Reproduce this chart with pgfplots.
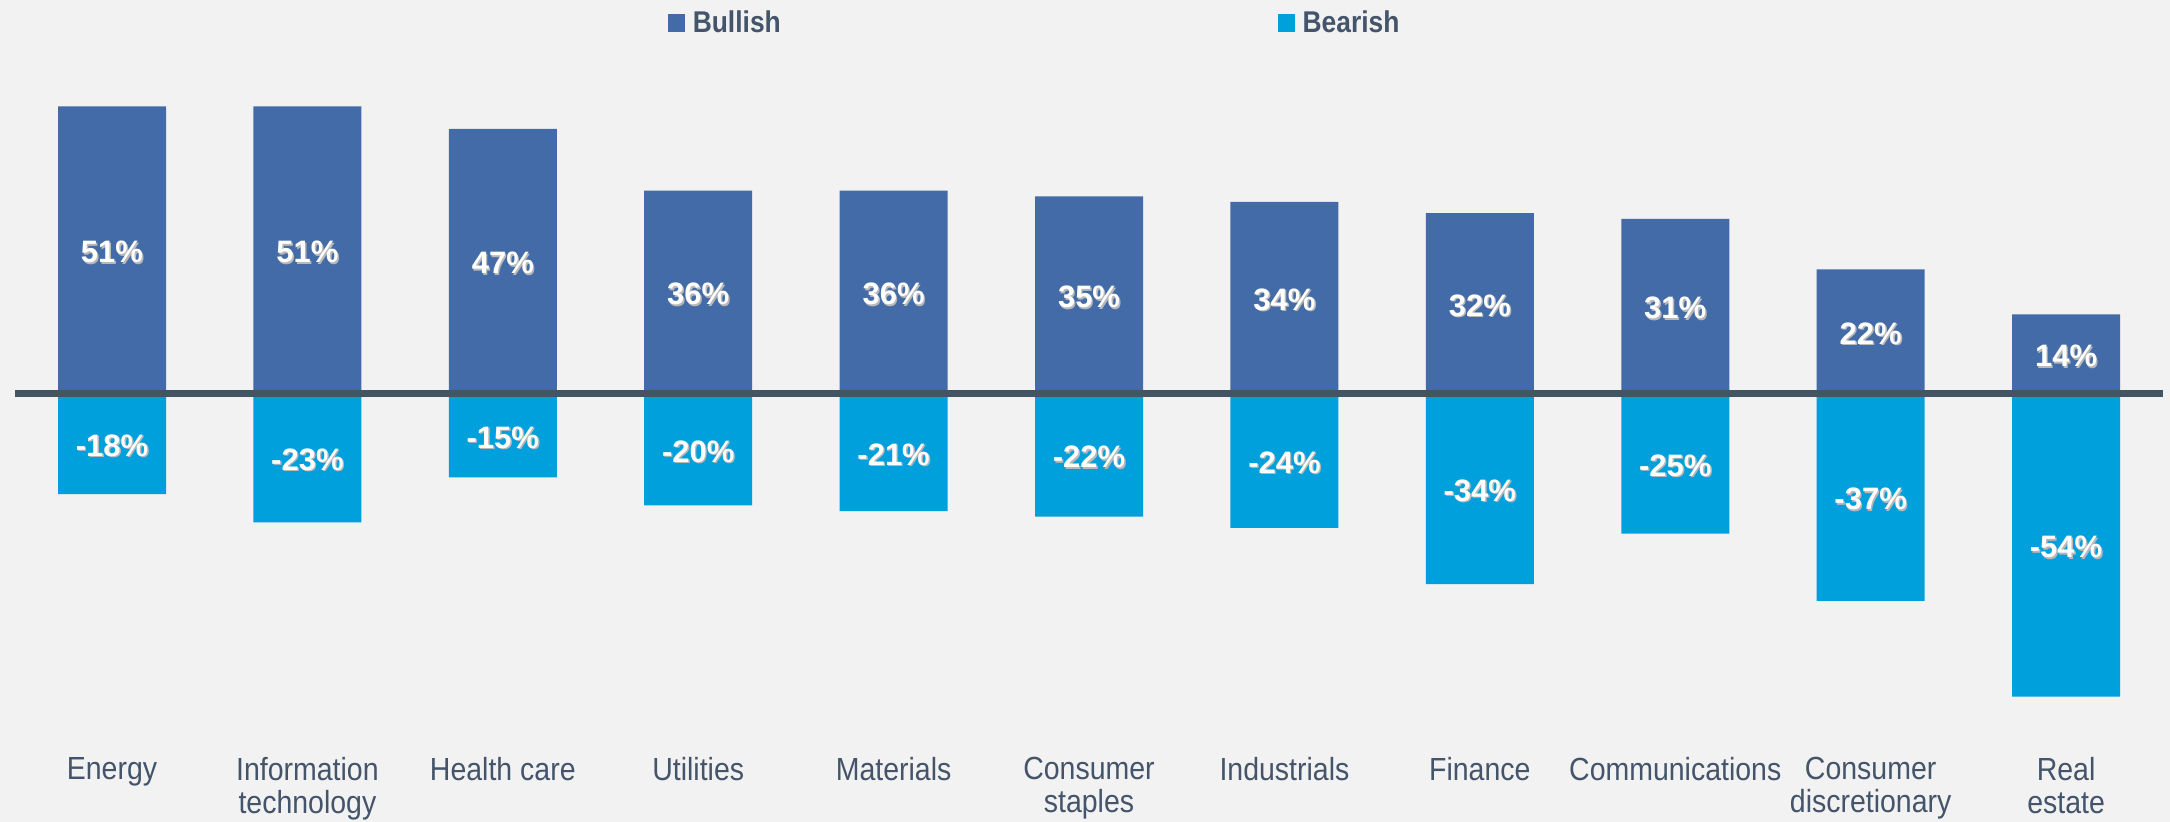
\documentclass[border=0pt]{standalone}
\usepackage{pgfplots}
\pgfplotsset{compat=1.18}
\usepackage{fontspec}
\setmainfont{Liberation Sans}
\newfontfamily\catfont[FakeStretch=0.89]{Liberation Sans}
\newfontfamily\legfont[FakeStretch=0.88]{Liberation Sans}

\definecolor{bull}{HTML}{436BA8}
\definecolor{bear}{HTML}{00A0DD}
\definecolor{bg}{HTML}{F2F2F2}
\definecolor{zline}{HTML}{435463}
\definecolor{txt}{HTML}{44546A}

% white label with a small soft shadow
\newcommand{\shtext}[1]{\makebox[0pt][l]{\hspace{0.7bp}\raisebox{-0.7bp}{\textcolor{black!28}{#1}}}\textcolor{white}{#1}}

\pgfplotstableread{
x  bull bear
0  51  -18
1  51  -23
2  47  -15
3  36  -20
4  36  -21
5  35  -22
6  34  -24
7  32  -34
8  31  -25
9  22  -37
10 14  -54
}\sectors

\begin{document}
\begin{tikzpicture}
\path[use as bounding box, fill=bg] (0,0) rectangle (1085bp,411bp);
\begin{axis}[
    at={(0,0)}, anchor=south west,
    scale only axis,
    width=1085bp, height=411bp,
    xmin=-0.5732, xmax=10.532,
    ymin=-76.33, ymax=69.93,
    axis line style={draw=none},
    tick style={draw=none},
    major tick length=0pt,
    ytick=\empty,
    xtick={0,...,10},
    xticklabels={Energy,{Information\\technology},Health care,Utilities,Materials,{Consumer\\staples},Industrials,Finance,Communications,{Consumer\\discretionary},{Real\\estate}},
    xticklabel style={font=\catfont\fontsize{16bp}{16.5bp}\selectfont, text=txt, align=center, anchor=north, inner sep=0pt, yshift=32.5bp},
    legend columns=2,
    legend style={draw=none, fill=none, inner sep=0pt, outer sep=0pt,
        at={(rel axis cs:0.30783,0.98662)}, anchor=north west,
        font=\legfont\bfseries\fontsize{15bp}{18bp}\selectfont, text=txt,
        nodes={inner sep=0pt},
        /tikz/every odd column/.append style={column sep=4bp},
        /tikz/every even column/.append style={column sep=248.5bp}},
    barlabel/.style={
        nodes near coords={\shtext{\pgfplotspointmeta\%}},
        point meta=explicit symbolic,
        visualization depends on={y \as \rawy},
        nodes near coords style={anchor=center, inner sep=0pt,
            font=\bfseries\fontsize{15.5bp}{18bp}\selectfont,
            shift={(axis direction cs:0,-\rawy/2)}, yshift=-1.5bp}},
]
\addlegendimage{legend image code/.code={\fill[bull] (0bp,-4.25bp) rectangle (8bp,4.25bp);}}
\addlegendentry{Bullish}
\addlegendimage{legend image code/.code={\fill[bear] (0bp,-4.25bp) rectangle (8bp,4.25bp);}}
\addlegendentry{Bearish}

\addplot[ybar, bar width=54bp, bar shift=0pt, fill=bull, draw=none, forget plot, barlabel]
    table[x=x, y=bull, meta=bull] {\sectors};
\addplot[ybar, bar width=54bp, bar shift=0pt, fill=bear, draw=none, forget plot, barlabel]
    table[x=x, y=bear, meta=bear] {\sectors};

% zero line over the bars
\addplot[zline, line width=3.5bp, forget plot] coordinates {(-0.4964,0) (10.496,0)};
\end{axis}
\end{tikzpicture}
\end{document}
